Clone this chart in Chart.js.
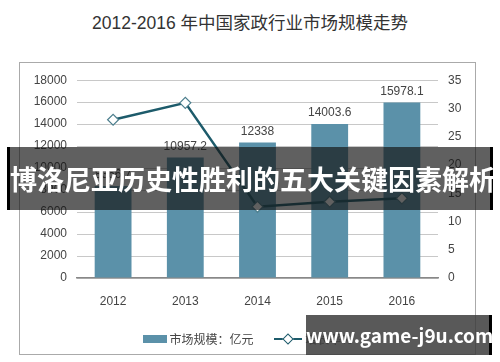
<!DOCTYPE html>
<html>
<head>
<meta charset="utf-8">
<script src="https://cdn.jsdelivr.net/npm/chart.js@4/dist/chart.umd.min.js"></script>
<style>
  body { margin: 0; background: #fff; font-family: "Noto Sans CJK SC", "Liberation Sans", sans-serif; }
  #wrap { position: relative; width: 500px; height: 362px; overflow: hidden; }
  #title { position: absolute; left: 0; top: 9px; width: 500px; text-align: center; font-size: 17.5px; color: #333;
           font-family: "Liberation Sans", "Noto Sans CJK SC", sans-serif; }
  #frame { position: absolute; left: 19px; top: 62px; width: 455px; height: 291px; border: 1px solid #aaa; }
  #frame canvas { position: absolute; left: 0; top: 0; }
  #legend { position: absolute; left: 0; top: 265px; width: 455px; text-align: center; font-size: 12px; color: #444; }
  #legend span { display: inline-block; vertical-align: middle; }
  .banner { position: absolute; background: rgba(20,20,20,0.68); color: #fff; font-weight: bold; white-space: nowrap; }
  #b1 { left: 7px; top: 147px; width: 486px; height: 63px; line-height: 63px; font-size: 27px; text-align: center; border-left: 3px solid #000; border-right: 3px solid #000; box-sizing: border-box; }
  #b2 { left: 306px; top: 315px; width: 186px; height: 40px; line-height: 40px; font-size: 19px; text-align: center; border-right: 3px solid #000; box-sizing: border-box; background: rgba(60,60,60,0.85); }
</style>
</head>
<body>
<div id="wrap">
  <div id="title">2012-2016 年中国家政行业市场规模走势</div>
  <div id="frame">
    <canvas id="c" width="455" height="291"></canvas>
    <div id="legend">
      <span style="width:24px;height:8px;background:#5b91a9;margin-right:3px"></span><span>市场规模：亿元</span>
      <span style="width:28px;height:10px;margin-left:18px;margin-right:3px;position:relative">
        <span style="position:absolute;left:0;top:4px;width:28px;height:2px;background:#1d5b6b"></span>
        <span style="position:absolute;left:10px;top:1px;width:6px;height:6px;background:#fff;border:1px solid #1d5b6b;transform:rotate(45deg)"></span>
      </span><span>增长率%</span>
    </div>
  </div>
  <div class="banner" id="b1">博洛尼亚历史性胜利的五大关键因素解析</div>
  <div class="banner" id="b2">www.game-j9u.com</div>
</div>
<script>
const years = ['2012', '2013', '2014', '2015', '2016'];
const marketSize = [8366.7, 10957.2, 12338, 14003.6, 15978.1];
const growthRate = [28.0, 31.0, 12.6, 13.5, 14.1];
const leftTicks = [0, 18000, 2000];
const rightTicks = [0, 35, 5];

// labels above the bars (dataset 1 is the bar series)
const barLabels = {
    id: 'barLabels',
    afterDatasetsDraw(chart) {
        const ctx = chart.ctx;
        const meta = chart.getDatasetMeta(1);
        ctx.save();
        ctx.font = '12px "Liberation Sans", Arial, sans-serif';
        ctx.fillStyle = '#444';
        ctx.textAlign = 'center';
        ctx.textBaseline = 'bottom';
        meta.data.forEach((bar, i) => {
            ctx.fillText(String(marketSize[i]), bar.x, bar.y - 5);
        });
        ctx.restore();
    }
};

const tickFont = { family: '"Liberation Sans", Arial, sans-serif', size: 12 };

new Chart(document.getElementById('c'), {
    type: 'bar',
    data: {
        labels: years,
        datasets: [
            {
                type: 'line',
                label: '增长率%',
                data: growthRate,
                yAxisID: 'y2',
                borderColor: '#1d5b6b',
                borderWidth: 2.5,
                pointStyle: 'rectRot',
                pointRadius: 5.5,
                pointBackgroundColor: '#fff',
                pointBorderColor: '#4d7f8e',
                pointBorderWidth: 1.2,
                tension: 0,
                order: 0
            },
            {
                label: '市场规模：亿元',
                data: marketSize,
                yAxisID: 'y',
                backgroundColor: '#5b91a9',
                categoryPercentage: 1,
                barPercentage: 0.51,
                order: 1
            }
        ]
    },
    options: {
        responsive: false,
        animation: false,
        layout: { padding: { top: 12, bottom: 46 } },
        plugins: { legend: { display: false }, tooltip: { enabled: false } },
        scales: {
            x: {
                grid: { display: false },
                border: { color: '#888', width: 1.5 },
                ticks: { font: tickFont, color: '#444', padding: 8 },
                afterFit: (s) => { s.height = 30; }
            },
            y: {
                position: 'left',
                min: leftTicks[0], max: leftTicks[1],
                ticks: { stepSize: leftTicks[2], font: tickFont, color: '#444', padding: 10,
                         callback: (v) => String(v) },
                grid: { color: '#c8c8c8', drawTicks: false },
                border: { display: false },
                afterFit: (s) => { s.width = 57; }
            },
            y2: {
                position: 'right',
                min: rightTicks[0], max: rightTicks[1],
                ticks: { stepSize: rightTicks[2], font: tickFont, color: '#444', padding: 10,
                         callback: (v) => String(v) },
                grid: { drawOnChartArea: false, drawTicks: false },
                border: { display: false },
                afterFit: (s) => { s.width = 37; }
            }
        }
    },
    plugins: [barLabels]
});
</script>
</body>
</html>
